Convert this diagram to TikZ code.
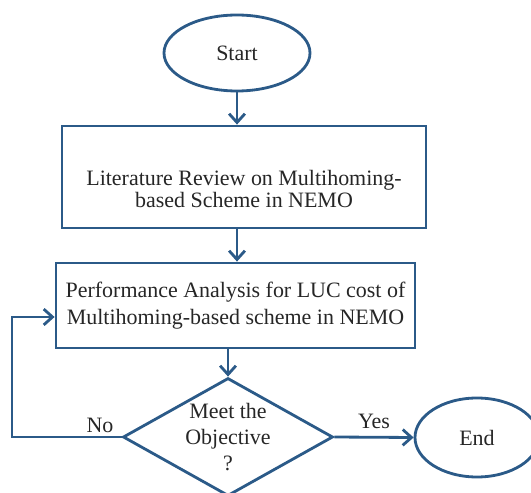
\documentclass[tikz,border=0pt]{standalone}
\usepackage{fontspec}
\setmainfont{Liberation Serif}
\usetikzlibrary{shapes.geometric,arrows.meta}
\definecolor{fc}{HTML}{2B5A88}
\begin{document}
\begin{tikzpicture}[x=0.02cm,y=-0.02cm,
  line width=1.6pt,
  every node/.style={font=\fontsize{12.5}{15}\selectfont, text=black!85},
  conn/.style={draw=fc, -{Straight Barb[length=5pt,width=9pt,line width=1.6pt]}},
  term/.style={draw=fc, ellipse, inner sep=0pt},
  proc/.style={draw=fc, rectangle, inner sep=0pt, align=center},
  dec/.style={draw=fc, diamond, inner sep=0pt, align=center}]
\useasboundingbox (0,0) rectangle (531,493);
\clip (0,0) rectangle (531,493);
\node[term, minimum width=146*0.02cm, minimum height=76*0.02cm] (start) at (237,53) {Start};
\node[proc, minimum width=364*0.02cm, minimum height=102*0.02cm] (lit) at (244,177) {\raisebox{-11pt}[0pt][0pt]{\begin{tabular}{@{}c@{}}Literature Review on Multihoming-\\[-2.5pt]based Scheme in NEMO\end{tabular}}};
\node[proc, minimum width=359*0.02cm, minimum height=85*0.02cm] (perf) at (235.5,305.5) {Performance Analysis for LUC cost of\\Multihoming-based scheme in NEMO};
\node[dec, minimum width=210*0.02cm, minimum height=118*0.02cm, aspect=1.78] (dec) at (228,437) {Meet the\\Objective\\?};
\node[term, minimum width=124*0.02cm, minimum height=79*0.02cm] (end) at (477,437.5) {End};
\coordinate (c1) at (12,437);
\coordinate (c2) at (12,317);
\draw[conn] (start.south) -- (start.south |- lit.north);
\draw[conn] (lit.south -| start.south) -- (perf.north -| start.south);
\draw[conn] (perf.south -| dec.north) -- (dec.north);
\draw[conn] (dec.east) -- (end.west) node[midway, above=1pt] {Yes};
\draw[conn] (dec.west) -- (c1) -- (c2) -- (c2 -| perf.west);
\node at (100,425) {No};
\end{tikzpicture}
\end{document}
